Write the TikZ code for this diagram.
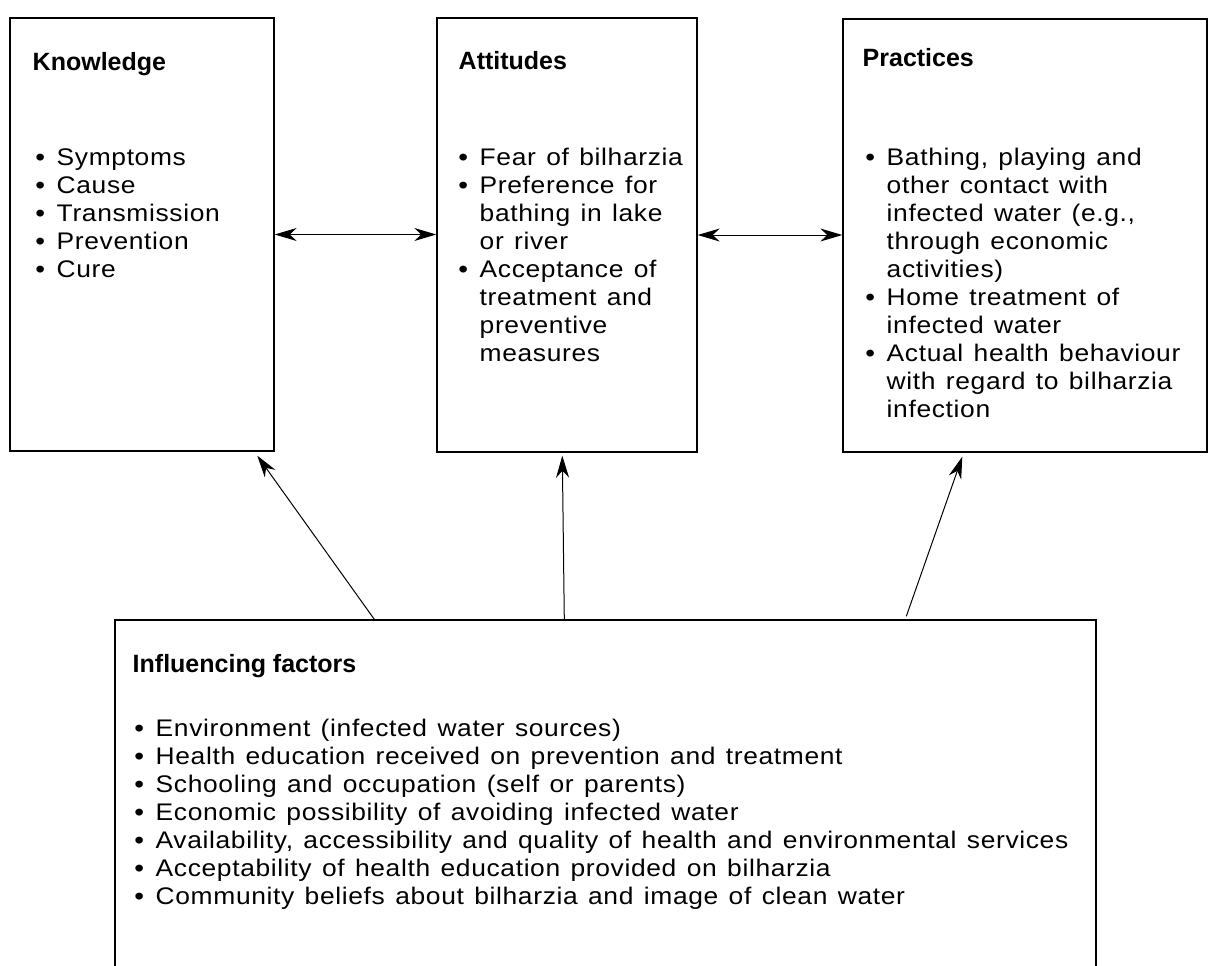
\documentclass[tikz,border=0pt]{standalone}
\usepackage{fontspec}
\setmainfont{Liberation Sans}
\newfontfamily\bodyfont[FakeStretch=1.1, LetterSpace=2.7, WordSpace=1.3]{Liberation Sans}
\usetikzlibrary{arrows.meta}
\newlength\bulw \setlength\bulw{10.5pt}
\newcommand\bul{\makebox[\bulw][l]{\bfseries\textbullet}}
\newcommand\cnt{\hspace*{\bulw}}
\tikzset{
  box/.style  = {rectangle, draw, line width=0.7pt, inner sep=0},
  head/.style = {anchor=base west, inner sep=0, font=\fontsize{12.5}{14}\selectfont\bfseries},
  list/.style = {anchor=north west, inner sep=0, align=left, font=\fontsize{12}{14}\selectfont\bodyfont},
  link/.style = {line width=0.5pt, -{Stealth[length=11pt, width=6.5pt, inset=3.5pt]}},
  both/.style = {line width=0.5pt, {Stealth[length=11pt, width=6.5pt, inset=3.5pt]}-{Stealth[length=11pt, width=6.5pt, inset=3.5pt]}}
}
\begin{document}
\begin{tikzpicture}[x=0.5pt, y=-0.5pt]
  \useasboundingbox (0,0) rectangle (1209,965);
  \clip (0,0) rectangle (1209,965);
  % frames
  \node[box, minimum width=132pt, minimum height=216.5pt] (K) at (142,234.5) {};
  \node[box, minimum width=130pt, minimum height=217pt]   (A) at (567,235) {};
  \node[box, minimum width=182pt, minimum height=216.5pt] (P) at (1025,235.5) {};
  \node[box, minimum width=490.5pt, minimum height=200pt] (F) at (605.5,820) {};
  % headings
  \node[head] (Kh) at ([shift={(23,53)}]K.north west) {Knowledge};
  \node[head] (Ah) at ([shift={(22,52)}]A.north west) {Attitudes};
  \node[head] (Ph) at ([shift={(20,48)}]P.north west) {Practices};
  \node[head] (Fh) at ([shift={(18,53)}]F.north west) {Influencing factors};
  % lists
  \node[list] (Kl) at ([shift={(26,128)}]K.north west) {\strut\bul Symptoms\\ \bul Cause\\ \bul Transmission\\ \bul Prevention\\ \bul Cure};
  \node[list] (Al) at ([shift={(22,128)}]A.north west) {\strut\bul Fear of bilharzia\\ \bul Preference for\\ \cnt bathing in lake\\ \cnt or river\\ \bul Acceptance of\\ \cnt treatment and\\ \cnt preventive\\ \cnt measures};
  \node[list] (Pl) at ([shift={(23,127)}]P.north west) {\strut\bul Bathing, playing and\\ \cnt other contact with\\ \cnt infected water (e.g.,\\ \cnt through economic\\ \cnt activities)\\ \bul Home treatment of\\ \cnt infected water\\ \bul Actual health behaviour\\ \cnt with regard to bilharzia\\ \cnt infection};
  \node[list] (Fl) at ([shift={(20,97)}]F.north west) {\strut\bul Environment (infected water sources)\\ \bul Health education received on prevention and treatment\\ \bul Schooling and occupation (self or parents)\\ \bul Economic possibility of avoiding infected water\\ \bul Availability, accessibility and quality of health and environmental services\\ \bul Acceptability of health education provided on bilharzia\\ \bul Community beliefs about bilharzia and image of clean water};
  % links
  \draw[both] (K.east) -- (K.east -| A.west);
  \draw[both] (A.east) -- (A.east -| P.west);
  \coordinate (f1) at ([shift={(260,0)}]F.north west);
  \coordinate (f2) at ([shift={(450,0)}]F.north west);
  \coordinate (f3) at ([shift={(792,-3)}]F.north west);
  \draw[link] (f1) -- ([shift={(248,4)}]K.south west);
  \draw[link] (f2) -- ([shift={(126,3)}]A.south west);
  \draw[link] (f3) -- ([shift={(120,4)}]P.south west);
\end{tikzpicture}
\end{document}
